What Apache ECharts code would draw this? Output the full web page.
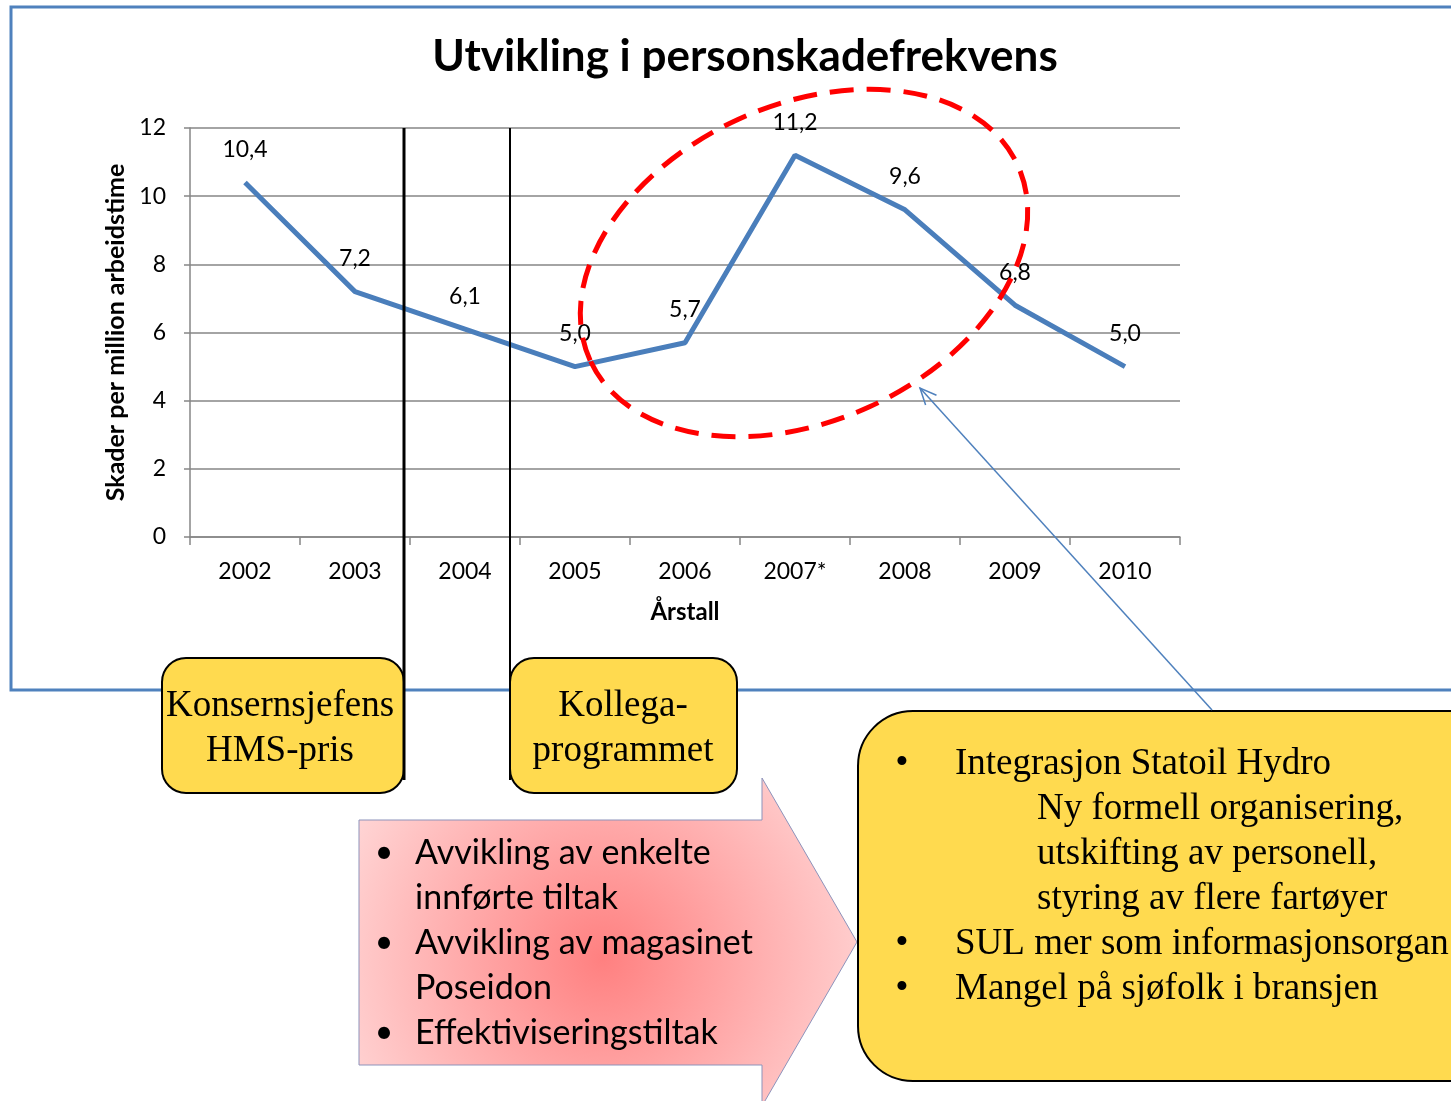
<!DOCTYPE html>
<html>
<head>
<meta charset="utf-8">
<script src="https://cdn.jsdelivr.net/npm/echarts@6/dist/echarts.min.js"></script>
<style>
html,body{margin:0;padding:0;background:#fff;}
#c{width:1451px;height:1101px;}
</style>
</head>
<body>
<div id="c"></div>
<script>
const categories = ['2002','2003','2004','2005','2006','2007*','2008','2009','2010'];
const values = [10.4, 7.2, 6.1, 5.0, 5.7, 11.2, 9.6, 6.8, 5.0];
const yMin = 0, yMax = 12, yStep = 2;
const titleText = 'Utvikling i personskadefrekvens';
const yName = 'Skader per million arbeidstime';
const xName = 'Årstall';
const box1Lines = ['Konsernsjefens', 'HMS-pris'];
const box2Lines = ['Kollega-', 'programmet'];
const pinkItems = [['Avvikling av enkelte','innførte tiltak'],['Avvikling av magasinet','Poseidon'],['Effektiviseringstiltak']];
const rightItems = [['Integrasjon Statoil Hydro',['Ny formell organisering,','utskifting av personell,','styring av flere fartøyer']],['SUL mer som informasjonsorgan',[]],['Mangel på sjøfolk i bransjen',[]]];

const SANS = 'Lato, "Open Sans", sans-serif';
const SERIF = '"Liberation Serif", "Times New Roman", serif';
const chart = echarts.init(document.getElementById('c'));

const g = [];
// outer blue frame
g.push({type:'rect', z:1, shape:{x:11,y:7,width:1460,height:683}, style:{fill:'none', stroke:'#4f81bd', lineWidth:3}});
// red dashed ellipse
g.push({type:'ellipse', z:50, x:804, y:263, rotation:24.5*Math.PI/180, shape:{cx:0,cy:0,rx:235,ry:158}, style:{fill:'none', stroke:'#ff0000', lineWidth:5, lineDash:[24,13]}});
// thin blue callout arrow
(function(){
  const x1=1212,y1=710,x2=920,y2=388;
  const ang=Math.atan2(y1-y2,x1-x2), L=18, a=0.42;
  g.push({type:'line', z:50, shape:{x1,y1,x2,y2}, style:{stroke:'#4f81bd', lineWidth:1.5}});
  g.push({type:'polyline', z:50, shape:{points:[[x2+L*Math.cos(ang+a), y2+L*Math.sin(ang+a)],[x2,y2],[x2+L*Math.cos(ang-a), y2+L*Math.sin(ang-a)]]}, style:{fill:'none', stroke:'#4f81bd', lineWidth:1.5}});
})();
// yellow boxes
function yellowBox(x,y,w,h,r,lines,cx){
  g.push({type:'rect', z:20, shape:{x,y,width:w,height:h,r}, style:{fill:'#ffda4f', stroke:'#000', lineWidth:2}});
  lines.forEach((t,i)=>g.push({type:'text', z:21, style:{text:t, x:cx, y:706+i*45, font:'37px '+SERIF, fill:'#000', textAlign:'center', align:'center', textVerticalAlign:'middle', verticalAlign:'middle'}}));
}
yellowBox(162,658,242,135,24,box1Lines,280);
yellowBox(510,658,227,135,24,box2Lines,623);
// vertical marker lines
g.push({type:'line', z:30, shape:{x1:404,y1:128,x2:404,y2:780}, style:{stroke:'#000', lineWidth:3}});
g.push({type:'line', z:30, shape:{x1:510,y1:128,x2:510,y2:780}, style:{stroke:'#000', lineWidth:2}});
// pink arrow
g.push({type:'polygon', z:20, shape:{points:[[359,820],[762,820],[762,778],[857,942],[762,1106],[762,1065],[359,1065]]},
  style:{fill:{type:'radial', x:0.49, y:0.55, r:0.85, colorStops:[{offset:0,color:'#ff8080'},{offset:1,color:'#ffd4d4'}]}, stroke:'#8d93bb', lineWidth:1}});
(function(){
  let y=853;
  pinkItems.forEach(item=>{
    g.push({type:'text', z:21, style:{text:'•', x:384, y:y, font:'32px '+SANS, fill:'#000', textAlign:'center', align:'center', textVerticalAlign:'middle', verticalAlign:'middle'}});
    item.forEach(t=>{
      g.push({type:'text', z:21, style:{text:t, x:415, y:y, font:'34px '+SANS, fill:'#000', textAlign:'left', align:'left', textVerticalAlign:'middle', verticalAlign:'middle'}});
      y+=45;
    });
  });
})();
// right yellow box
g.push({type:'rect', z:20, shape:{x:858,y:711,width:700,height:370,r:55}, style:{fill:'#ffda4f', stroke:'#000', lineWidth:2}});
(function(){
  let y=764;
  rightItems.forEach(item=>{
    g.push({type:'text', z:21, style:{text:'•', x:902, y:y, font:'38px '+SERIF, fill:'#000', textAlign:'center', align:'center', textVerticalAlign:'middle', verticalAlign:'middle'}});
    g.push({type:'text', z:21, style:{text:item[0], x:955, y:y, font:'37px '+SERIF, fill:'#000', textAlign:'left', align:'left', textVerticalAlign:'middle', verticalAlign:'middle'}});
    y+=45;
    item[1].forEach(t=>{
      g.push({type:'text', z:21, style:{text:t, x:1037, y:y, font:'37px '+SERIF, fill:'#000', textAlign:'left', align:'left', textVerticalAlign:'middle', verticalAlign:'middle'}});
      y+=45;
    });
  });
})();

const option = {
  animation:false,
  backgroundColor:'#fff',
  title:{text:titleText, left:740, top:30, textAlign:'center', textStyle:{fontFamily:SANS, fontWeight:'bold', fontSize:44, color:'#000'}},
  grid:{left:190, top:128, width:990, height:409, containLabel:false},
  xAxis:{type:'category', data:categories, boundaryGap:true,
    name:xName, nameLocation:'middle', nameGap:63, nameTextStyle:{fontFamily:SANS, fontWeight:'bold', fontSize:24, color:'#000'},
    axisLine:{lineStyle:{color:'#868686', width:1.5}},
    axisTick:{show:true, length:8, lineStyle:{color:'#868686', width:1.5}},
    axisLabel:{fontFamily:SANS, fontSize:23, color:'#000', margin:23}},
  yAxis:{type:'value', min:yMin, max:yMax, interval:yStep,
    name:yName, nameLocation:'middle', nameGap:59, nameRotate:90, nameTextStyle:{fontFamily:SANS, fontWeight:'bold', fontSize:25, color:'#000'},
    axisLine:{show:true, lineStyle:{color:'#868686', width:1.5}},
    axisTick:{show:true, length:6, lineStyle:{color:'#868686', width:1.5}},
    axisLabel:{fontFamily:SANS, fontSize:23, color:'#000', margin:24},
    splitLine:{show:true, lineStyle:{color:'#868686', width:1.5}}},
  series:[{type:'line', data:values, symbol:'circle', symbolSize:1, itemStyle:{color:'rgba(0,0,0,0)', borderWidth:0},
    lineStyle:{color:'#4a7ebb', width:5}, z:10,
    label:{show:true, position:'top', distance:21, fontFamily:SANS, fontSize:23, color:'#000',
      formatter:p=>p.value.toFixed(1).replace('.', ',')}}],
  graphic:{elements:g}
};
chart.setOption(option);
</script>
</body>
</html>
